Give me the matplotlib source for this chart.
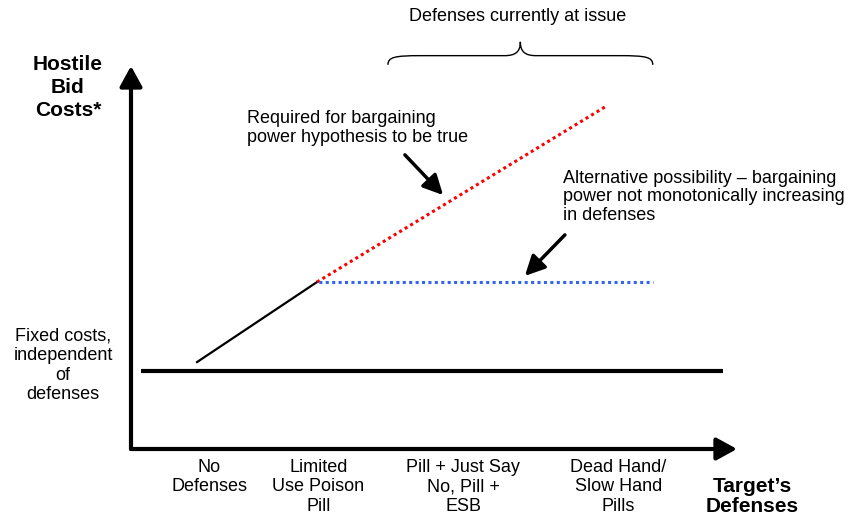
import matplotlib.pyplot as plt
import numpy as np
from matplotlib.path import Path
from matplotlib.patches import PathPatch

plt.rcParams['font.family'] = ['Liberation Sans', 'DejaVu Sans']

# categories on the defenses axis (conceptual positions)
categories = ['No\nDefenses', 'Limited\nUse Poison\nPill', 'Pill + Just Say\nNo, Pill +\nESB',
              'Dead Hand/\nSlow Hand\nPills']
cat_pos = [1.29, 3.09, 5.48, 8.04]

# conceptual cost curves
fixed_x = [0.17, 9.77]
fixed_y = [2.04, 2.04]
base_x = [1.09, 3.07]
base_y = [2.27, 4.36]
required_x = [3.07, 7.82]
required_y = [4.36, 8.93]
alt_x = [3.07, 8.61]
alt_y = [4.36, 4.36]

# range of defenses "currently at issue"
issue_span = [4.24, 8.61]

fig = plt.figure(figsize=(8.56, 5.21), dpi=100)
W, H = 856, 521
ax = fig.add_axes([131 / W, (H - 449) / H, (737 - 131) / W, (449 - 66) / H])
ax.set_xlim(0, 10)
ax.set_ylim(0, 10)
for s in ax.spines.values():
    s.set_visible(False)
ax.set_yticks([])
ax.set_xticks(cat_pos)
ax.set_xticklabels(categories, fontsize=13, linespacing=1.2)
ax.tick_params(axis='x', length=0, pad=7)

# axis arrows
arrow_kw = dict(arrowstyle='-|>,head_length=0.62,head_width=0.34', mutation_scale=20,
                lw=3, color='black', shrinkA=0, shrinkB=0)
ax.annotate('', xy=(0, 1), xytext=(0, 0), xycoords='axes fraction', arrowprops=arrow_kw)
ax.annotate('', xy=(1, 0), xytext=(0, 0), xycoords='axes fraction', arrowprops=arrow_kw)

# curves
ax.plot(fixed_x, fixed_y, color='black', lw=3, solid_capstyle='butt')
ax.plot(base_x, base_y, color='black', lw=1.6)
ax.plot(required_x, required_y, color='#ff0000', lw=2.2, linestyle=(0, (1, 1.1)))
ax.plot(alt_x, alt_y, color='#3366ee', lw=2.2, linestyle=(1.5, (1, 1.1)))

# annotations
ptr = dict(arrowstyle='-|>,head_length=0.6,head_width=0.3', mutation_scale=20,
           lw=2.5, color='black', shrinkA=0, shrinkB=0)
ax.text(1.91, 8.38, 'Required for bargaining\npower hypothesis to be true',
        fontsize=13, ha='left', va='center', linespacing=1.1)
ax.annotate('', xy=(5.15, 6.63), xytext=(4.52, 7.68), arrowprops=ptr)
ax.text(7.13, 6.58, 'Alternative possibility \u2013 bargaining\npower not monotonically increasing\nin defenses',
        fontsize=13, ha='left', va='center', linespacing=1.15)
ax.annotate('', xy=(6.50, 4.52), xytext=(7.16, 5.59), arrowprops=ptr)

# curly brace over the defenses at issue
x0, x1 = issue_span
xm = (x0 + x1) / 2
yb, h = 10.03, 0.6
half = (xm - x0)
def brace_half(sign):
    s = sign
    xa = xm - s * half
    return [
        (xa, yb), (xa, yb + 0.34 * h), (xa + s * 0.05 * half, yb + 0.40 * h), (xa + s * 0.25 * half, yb + 0.40 * h),
        (xm - s * 0.12 * half, yb + 0.40 * h),
        (xm - s * 0.04 * half, yb + 0.40 * h), (xm, yb + 0.55 * h), (xm, yb + h),
    ]
left = brace_half(1)
right = brace_half(-1)
verts = left + right[::-1][1:]
codes = [Path.MOVETO, Path.CURVE4, Path.CURVE4, Path.CURVE4, Path.LINETO,
         Path.CURVE4, Path.CURVE4, Path.CURVE4,
         Path.CURVE4, Path.CURVE4, Path.CURVE4, Path.LINETO,
         Path.CURVE4, Path.CURVE4, Path.CURVE4]
ax.add_patch(PathPatch(Path(verts, codes), fill=False, lw=1.0, color='black', clip_on=False))
ax.text(xm - 0.04, 11.28, 'Defenses currently at issue', fontsize=13, ha='center', va='center')

# axis titles and side note
fig.text(68 / W, 1 - 87.5 / H, 'Hostile\nBid\nCosts*', fontsize=15, fontweight='bold',
         ha='center', va='center', linespacing=1.25)
fig.text(752 / W, 1 - 496.5 / H, 'Target\u2019s\nDefenses', fontsize=15, fontweight='bold',
         ha='center', va='center', linespacing=1.05)
fig.text(63 / W, 1 - 365.5 / H, 'Fixed costs,\nindependent\nof\ndefenses', fontsize=13,
         ha='center', va='center', linespacing=1.2)

fig.savefig('out.png', dpi=100)
